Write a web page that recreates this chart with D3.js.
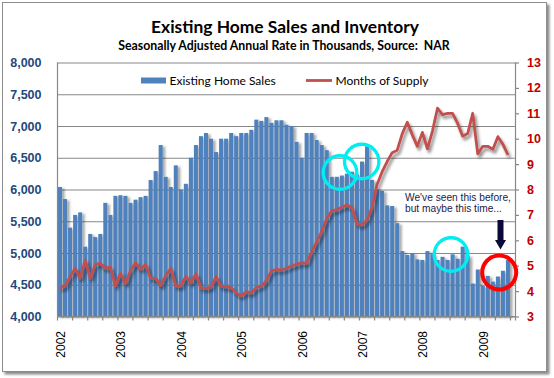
<!DOCTYPE html>
<html>
<head>
<meta charset="utf-8">
<script src="https://cdn.jsdelivr.net/npm/d3@7/dist/d3.min.js"></script>
<style>
  html, body { margin: 0; padding: 0; background: #ffffff; }
  svg { display: block; }
</style>
</head>
<body>
<svg id="chart" width="554" height="378"></svg>
<script>
// ---------------- DATA ----------------
const years = [2002, 2003, 2004, 2005, 2006, 2007, 2008, 2009];
const monthNames = ["Jan","Feb","Mar","Apr","May","Jun","Jul","Aug","Sep","Oct","Nov","Dec"];
const monthCount = 91; // Jan 2002 .. Jul 2009

// Existing home sales, SAAR thousands
const sales = [
  6040, 5850, 5400, 5600, 5640, 5100, 5300, 5250, 5300, 5790, 5600, 5900,   // 2002
  5910, 5900, 5790, 5840, 5880, 5900, 6150, 6290, 6700, 6200, 6040, 6380,   // 2003
  6000, 6090, 6500, 6700, 6840, 6890, 6800, 6590, 6800, 6800, 6890, 6840,   // 2004
  6890, 6890, 6940, 7100, 7080, 7140, 7050, 7090, 7090, 7020, 7000, 6750,   // 2005
  6500, 6890, 6890, 6780, 6700, 6620, 6200, 6200, 6220, 6250, 6280, 6240,   // 2006
  6440, 6680, 6150, 6000, 5980, 5750, 5740, 5470, 5030, 4970, 5000, 4900,   // 2007
  4890, 5030, 4980, 4890, 4940, 4890, 4980, 4910, 5100, 4960, 4520, 4740,   // 2008
  4480, 4640, 4550, 4630, 4720, 4890, null                                  // 2009
];

// Months of supply
const supply = [
  4.11, 4.20, 4.57, 4.90, 4.50, 5.22, 4.50, 5.05, 5.09, 4.90, 4.94, 4.20,   // 2002
  4.70, 4.30, 4.80, 5.12, 4.86, 5.05, 4.50, 4.50, 4.22, 4.60, 4.90, 4.20,   // 2003
  4.20, 4.58, 4.32, 4.68, 4.13, 4.11, 4.16, 4.57, 4.19, 4.17, 4.15, 3.92,   // 2004
  3.81, 3.98, 3.92, 4.15, 4.19, 4.41, 4.80, 4.85, 4.83, 4.90, 4.99, 5.05,   // 2005
  5.12, 5.09, 5.55, 5.94, 6.34, 6.86, 7.17, 7.20, 7.30, 7.39, 7.28, 6.65,   // 2006
  6.60, 6.80, 7.30, 8.20, 8.70, 9.10, 9.45, 9.55, 10.20, 10.65, 10.15, 9.70, // 2007
  10.25, 9.60, 10.30, 11.20, 10.95, 11.00, 11.00, 10.60, 10.10, 10.20, 11.00, 9.40, // 2008
  9.70, 9.70, 9.58, 10.08, 9.78, 9.36, null                                  // 2009
];

const leftTicks = [4000, 4500, 5000, 5500, 6000, 6500, 7000, 7500, 8000];
const rightTicks = [3, 4, 5, 6, 7, 8, 9, 10, 11, 12, 13];

const titleText = "Existing Home Sales and Inventory";
const subtitleText = "Seasonally Adjusted Annual Rate in Thousands, Source:  NAR";
const seriesNames = ["Existing Home Sales", "Months of Supply"];
const noteLines = ["We've seen this before,", "but maybe this time..."];

// categories built from years/months
const categories = [];
years.forEach(y => monthNames.forEach(m => categories.push(y + "-" + m)));
categories.length = monthCount;
const rows = categories.map((c, i) => ({ c, sales: sales[i], supply: supply[i] }));

// ---------------- LAYOUT ----------------
const svg = d3.select("#chart");
const L = 57.5, R = 515.5, T = 62.5, B = 316.5;

const x = d3.scaleBand().domain(categories).range([L, R]).paddingInner(0.2).paddingOuter(0.1);
const yL = d3.scaleLinear().domain([4000, 8000]).range([B, T]);
const yR = d3.scaleLinear().domain([3, 13]).range([B, T]);
const cx = c => x(c) + x.bandwidth() / 2;

const defs = svg.append("defs");
const f1 = defs.append("filter").attr("id", "frameShadow").attr("x", "-5%").attr("y", "-5%").attr("width", "110%").attr("height", "110%");
f1.append("feDropShadow").attr("dx", 2.5).attr("dy", 2.5).attr("stdDeviation", 1.2).attr("flood-color", "#000").attr("flood-opacity", 0.45);
const f2 = defs.append("filter").attr("id", "barShadow").attr("x", "-20%").attr("y", "-20%").attr("width", "140%").attr("height", "140%");
f2.append("feDropShadow").attr("dx", 2.5).attr("dy", 1.5).attr("stdDeviation", 1.3).attr("flood-color", "#000").attr("flood-opacity", 0.35);
const f3 = defs.append("filter").attr("id", "lineShadow").attr("x", "-20%").attr("y", "-20%").attr("width", "140%").attr("height", "140%");
f3.append("feDropShadow").attr("dx", 2).attr("dy", 3).attr("stdDeviation", 1.4).attr("flood-color", "#000").attr("flood-opacity", 0.45);

// Outer frame
svg.append("rect").attr("x", 2.5).attr("y", 2.5).attr("width", 544).attr("height", 369)
  .attr("fill", "#fff").attr("stroke", "#8c8c8c").attr("stroke-width", 1)
  .attr("filter", "url(#frameShadow)");

// Title
svg.append("text").attr("x", 285).attr("y", 33).attr("text-anchor", "middle")
  .attr("font-family", "Lato, 'Open Sans', sans-serif").attr("font-weight", "bold")
  .attr("font-size", 17.4).attr("fill", "#000").text(titleText);
svg.append("text").attr("x", 284).attr("y", 50).attr("text-anchor", "middle")
  .style("white-space", "pre")
  .attr("font-family", "Lato, 'Open Sans', sans-serif").attr("font-weight", "bold")
  .attr("font-size", 12.3).attr("fill", "#000").text(subtitleText);

// Gridlines
const grid = svg.append("g").attr("transform", `translate(${L},0)`)
  .call(d3.axisLeft(yL).tickValues(leftTicks).tickSize(-(R - L)).tickFormat(""));
grid.select(".domain").remove();
grid.selectAll("line").attr("stroke", "#888").attr("stroke-width", 1.2);

// Bars
svg.append("g").attr("filter", "url(#barShadow)")
  .selectAll("rect").data(rows.filter(d => d.sales != null)).join("rect")
  .attr("x", d => x(d.c)).attr("width", x.bandwidth())
  .attr("y", d => yL(d.sales)).attr("height", d => B - yL(d.sales))
  .attr("fill", "#4F81BD");

// Axes lines
svg.append("line").attr("x1", L).attr("x2", L).attr("y1", T).attr("y2", B).attr("stroke", "#888").attr("stroke-width", 1.2);
svg.append("line").attr("x1", R).attr("x2", R).attr("y1", T).attr("y2", B).attr("stroke", "#888").attr("stroke-width", 1.2);
svg.append("line").attr("x1", L).attr("x2", R).attr("y1", B).attr("y2", B).attr("stroke", "#888").attr("stroke-width", 1.2);

// Left axis labels
const axL = svg.append("g").attr("transform", `translate(${L},0)`)
  .call(d3.axisLeft(yL).tickValues(leftTicks).tickSize(0).tickPadding(16).tickFormat(d3.format(",")));
axL.select(".domain").remove();
axL.selectAll("text").attr("font-family", "'Liberation Sans', Arial, sans-serif").attr("font-weight", "bold")
  .attr("font-size", 12.5).attr("fill", "#1F497D");

// Right axis
const axR = svg.append("g").attr("transform", `translate(${R},0)`)
  .call(d3.axisRight(yR).tickValues(rightTicks).tickSize(3.5).tickPadding(8).tickFormat(d3.format("d")));
axR.select(".domain").remove();
axR.selectAll("line").attr("stroke", "#888").attr("stroke-width", 1.2);
axR.selectAll("text").attr("font-family", "'Liberation Sans', Arial, sans-serif").attr("font-weight", "bold")
  .attr("font-size", 12.5).attr("fill", "#C00000");

// Bottom tick marks every 3 months
const tickCats = categories.filter((c, i) => i % 3 === 0);
svg.append("g").selectAll("line").data(tickCats.concat(["__end"])).join("line")
  .attr("x1", d => d === "__end" ? R : x(d) - x.step() * 0.1)
  .attr("x2", d => d === "__end" ? R : x(d) - x.step() * 0.1)
  .attr("y1", B).attr("y2", B + 4).attr("stroke", "#888").attr("stroke-width", 1.2);

// Year labels
const janCats = categories.filter(c => c.endsWith("-Jan"));
const axB = svg.append("g").attr("transform", `translate(0,${B})`)
  .call(d3.axisBottom(x).tickValues(janCats).tickSize(0).tickFormat(d => d.split("-")[0]));
axB.select(".domain").remove();
axB.selectAll(".tick text")
  .attr("font-family", "'Liberation Sans', Arial, sans-serif").attr("font-size", 12).attr("fill", "#000")
  .attr("text-anchor", "end").attr("dy", null).attr("y", null)
  .attr("transform", "translate(5,14.5) rotate(-90)");

// Months of supply line
const line = d3.line().defined(d => d.supply != null).x(d => cx(d.c)).y(d => yR(d.supply));
svg.append("path").datum(rows).attr("d", line).attr("fill", "none")
  .attr("stroke", "#C0504D").attr("stroke-width", 2.8).attr("stroke-linejoin", "round")
  .attr("filter", "url(#lineShadow)");

// Legend
svg.append("rect").attr("x", 141).attr("y", 77.5).attr("width", 25).attr("height", 6).attr("fill", "#4F81BD");
svg.append("text").attr("x", 169.5).attr("y", 84.5).attr("font-family", "Lato, sans-serif")
  .attr("font-size", 12).attr("fill", "#000").text(seriesNames[0]);
svg.append("line").attr("x1", 306).attr("x2", 332).attr("y1", 80.5).attr("y2", 80.5)
  .attr("stroke", "#C0504D").attr("stroke-width", 2.8);
svg.append("text").attr("x", 335.5).attr("y", 84.5).attr("font-family", "Lato, sans-serif")
  .attr("font-size", 12).attr("fill", "#000").text(seriesNames[1]);

// Highlight circles
const circles = [
  { x: 340, y: 172.5, r: 16.8, color: "#00EEF2", w: 3.4 },
  { x: 361.7, y: 161.5, r: 17.2, color: "#00EEF2", w: 3.4 },
  { x: 451, y: 254.5, r: 16.8, color: "#00EEF2", w: 3.4 },
  { x: 499.2, y: 272.5, r: 17, color: "#FF0000", w: 4 }
];
svg.append("g").selectAll("circle").data(circles).join("circle")
  .attr("cx", d => d.x).attr("cy", d => d.y).attr("r", d => d.r)
  .attr("fill", "none").attr("stroke", d => d.color).attr("stroke-width", d => d.w);

// Annotation
svg.append("g").selectAll("text").data(noteLines).join("text")
  .attr("x", 405).attr("y", (d, i) => 201 + i * 10.5)
  .attr("font-family", "'Liberation Sans', Arial, sans-serif").attr("font-size", 10.2)
  .attr("fill", "#1a1a4a").text(d => d);

// Arrow
svg.append("path")
  .attr("d", "M497.5,220 L503.5,220 L503.5,240 L506,240 L500.5,249.5 L495,240 L497.5,240 Z")
  .attr("fill", "#0a0a38");
</script>
</body>
</html>
